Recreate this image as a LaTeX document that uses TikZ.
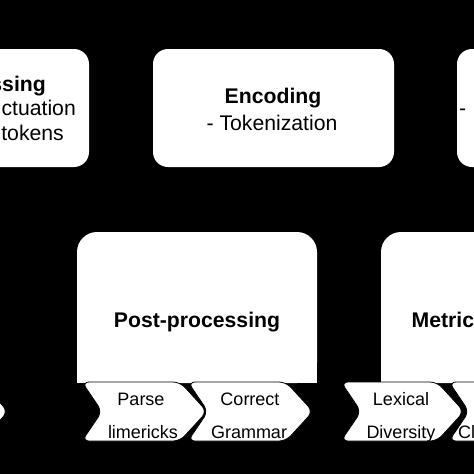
\documentclass[tikz,border=0pt]{standalone}
\usepackage{fontspec}
\setmainfont{Liberation Sans}
\begin{document}
\begin{tikzpicture}[x=1pt,y=-1pt,
  box/.style={fill=white, rounded corners=15pt, inner sep=0pt},
  bigbox/.style={fill=white, rounded corners=20pt, inner sep=0pt},
  chev/.style={fill=white, draw=black, line width=0.8pt, rounded corners=7pt},
  ttl/.style={font=\fontsize{21.2}{25}\selectfont\bfseries, inner sep=0pt},
  txt/.style={font=\fontsize{21.2}{25}\selectfont, inner sep=0pt},
  ctxt/.style={font=\fontsize{18}{21}\selectfont, inner sep=0pt}]
\useasboundingbox (0,0) rectangle (474,474);
\fill[black] (0,0) rectangle (474,474);
\clip (0,0) rectangle (474,474);
% top row boxes
\node[box, minimum width=239pt, minimum height=118pt] (pre) at (-30.5,108) {};
\node[box, minimum width=241pt, minimum height=118pt] (enc) at (273.5,108) {};
\node[box, minimum width=241pt, minimum height=118pt] (rtb) at (577.5,108) {};
% bottom row boxes
\node[bigbox, minimum width=240pt, minimum height=151pt] (post) at (197,307.5) {};
\fill[white] (77,360) rectangle (317,383);
\node[bigbox, minimum width=240pt, minimum height=151pt] (met) at (501,307.5) {};
\fill[white] (381,360) rectangle (621,383);
% top texts
\node[ttl, anchor=base east] (pre1) at (46,91) {ssing};
\node[txt, anchor=base east] (pre2) at (76,115) {ctuation};
\node[txt, anchor=base east] (pre3) at (64,140) {tokens};
\node[ttl, anchor=base] (enc1) at (273,103) {Encoding};
\node[txt, anchor=base] (enc2) at (272,130) {- Tokenization};
\node[txt, anchor=base west] (rt1) at (459,115) {-};
% bottom titles
\node[ttl, anchor=base] (postt) at (197,327) {Post-processing};
\node[ttl, anchor=base west] (mett) at (411.5,327) {Metric};
% chevrons
\foreach \a/\b in {-120/-19, 82/180, 188/286, 341/437, 449/560}{
  \path[chev] (\a,382) -- (\a+20,411.5) -- (\a,441) -- (\b,441) -- (\b+27,411.5) -- (\b,382) -- cycle;
}
\node[ctxt, anchor=base] (c1a) at (141,405) {Parse};
\node[ctxt, anchor=base] (c1b) at (143,438) {limericks};
\node[ctxt, anchor=base] (c2a) at (250,405) {Correct};
\node[ctxt, anchor=base] (c2b) at (249,438) {Grammar};
\node[ctxt, anchor=base] (c3a) at (401,405) {Lexical};
\node[ctxt, anchor=base] (c3b) at (401,438) {Diversity};
\node[ctxt, anchor=base west] (c4b) at (458,438) {Cl};
\end{tikzpicture}
\end{document}
